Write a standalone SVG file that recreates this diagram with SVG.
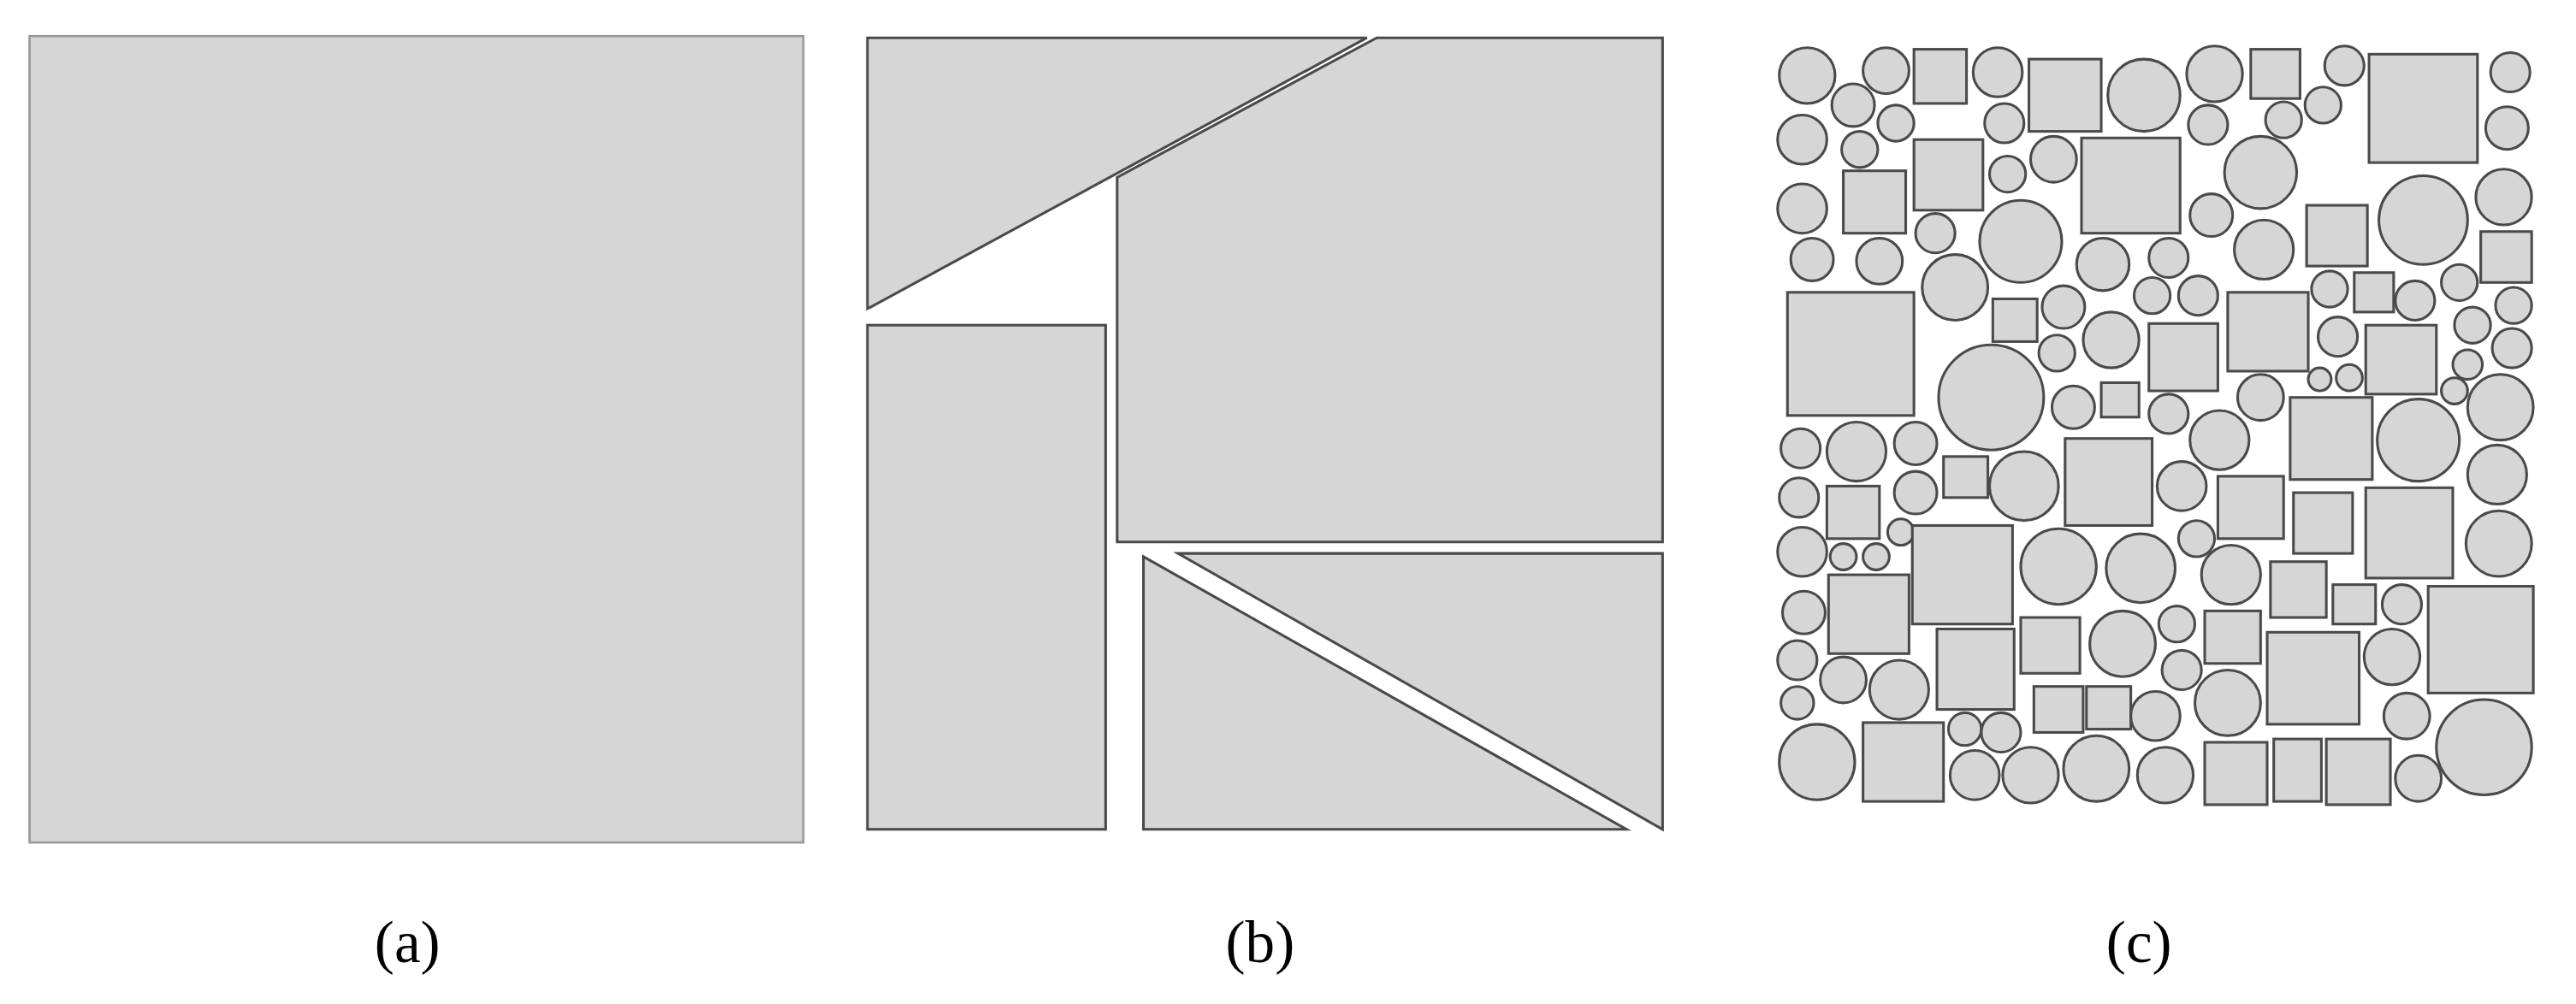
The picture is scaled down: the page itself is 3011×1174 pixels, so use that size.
<svg xmlns="http://www.w3.org/2000/svg" width="3011" height="1174" viewBox="0 0 3011 1174">
<style>
.s{fill:#d6d6d6;stroke:#4a4a4a;stroke-width:1.6}
.a{fill:#d6d6d6;stroke:#9a9a9a;stroke-width:1.4}
.t{font-family:"Liberation Serif",serif;font-size:36px;fill:#000;text-anchor:middle}
</style>
<rect width="3011" height="1174" fill="#fff"/>
<g transform="scale(1.9203)">
<g id="panel-a"><rect class="a" x="18" y="22" width="471" height="491"/></g>
<g id="panel-b">
<polygon class="s" points="528,23 832,23 528,188"/>
<polygon class="s" points="838,23 1012,23 1012,330 680,330 680,108"/>
<rect class="s" x="528" y="198" width="145" height="307"/>
<polygon class="s" points="696,339 696,505 990,505"/>
<polygon class="s" points="717,337 1012,337 1012,505"/>
</g>
<g id="panel-c">
<circle class="s" cx="1100" cy="46" r="17"/><circle class="s" cx="1128" cy="64" r="13"/><circle class="s" cx="1148" cy="43" r="14"/>
<rect class="s" x="1165" y="30" width="32" height="33"/><circle class="s" cx="1216" cy="44" r="15"/><circle class="s" cx="1220" cy="75" r="12"/>
<rect class="s" x="1235" y="36" width="44" height="44"/><circle class="s" cx="1305" cy="58" r="22"/><circle class="s" cx="1348" cy="45" r="17"/>
<rect class="s" x="1370" y="30" width="30" height="30"/><circle class="s" cx="1390" cy="73" r="11"/><circle class="s" cx="1414" cy="64" r="11"/>
<circle class="s" cx="1427" cy="40" r="12"/><rect class="s" x="1442" y="33" width="66" height="66"/><circle class="s" cx="1528" cy="44" r="12"/><circle class="s" cx="1526" cy="78" r="13"/>
<circle class="s" cx="1097" cy="85" r="15"/><circle class="s" cx="1132" cy="91" r="11"/><circle class="s" cx="1154" cy="75" r="11"/>
<rect class="s" x="1122" y="104" width="38" height="38"/><rect class="s" x="1165" y="85" width="42" height="43"/><circle class="s" cx="1222" cy="106" r="11"/>
<circle class="s" cx="1250" cy="97" r="14"/><rect class="s" x="1267" y="84" width="60" height="58"/><circle class="s" cx="1344" cy="76" r="12"/>
<circle class="s" cx="1376" cy="105" r="22"/><circle class="s" cx="1346" cy="131" r="13"/><circle class="s" cx="1097" cy="127" r="15"/>
<circle class="s" cx="1103" cy="158" r="13"/><circle class="s" cx="1144" cy="159" r="14"/><circle class="s" cx="1178" cy="142" r="12"/>
<circle class="s" cx="1230" cy="147" r="25"/><circle class="s" cx="1190" cy="175" r="20"/><rect class="s" x="1404" y="125" width="37" height="37"/>
<circle class="s" cx="1475" cy="134" r="27"/><circle class="s" cx="1524" cy="120" r="17"/><rect class="s" x="1510" y="141" width="31" height="31"/>
<circle class="s" cx="1280" cy="161" r="16"/><circle class="s" cx="1320" cy="157" r="12"/><circle class="s" cx="1378" cy="152" r="18"/>
<rect class="s" x="1088" y="178" width="77" height="75"/><rect class="s" x="1213" y="182" width="27" height="26"/><circle class="s" cx="1256" cy="187" r="13"/>
<circle class="s" cx="1252" cy="215" r="11"/><circle class="s" cx="1285" cy="207" r="17"/><circle class="s" cx="1310" cy="180" r="11"/>
<circle class="s" cx="1338" cy="180" r="12"/><rect class="s" x="1308" y="197" width="42" height="41"/><rect class="s" x="1356" y="178" width="49" height="48"/>
<circle class="s" cx="1418" cy="176" r="11"/><rect class="s" x="1433" y="166" width="24" height="24"/><circle class="s" cx="1470" cy="183" r="12"/>
<circle class="s" cx="1497" cy="172" r="11"/><circle class="s" cx="1530" cy="186" r="11"/><circle class="s" cx="1423" cy="205" r="12"/>
<rect class="s" x="1440" y="198" width="43" height="42"/><circle class="s" cx="1505" cy="198" r="11"/><circle class="s" cx="1529" cy="212" r="12"/>
<circle class="s" cx="1502" cy="222" r="9"/><circle class="s" cx="1212" cy="242" r="32"/><circle class="s" cx="1262" cy="248" r="13"/>
<rect class="s" x="1279" y="233" width="23" height="21"/><circle class="s" cx="1320" cy="252" r="12"/><circle class="s" cx="1376" cy="242" r="14"/>
<circle class="s" cx="1412" cy="231" r="7"/><circle class="s" cx="1430" cy="230" r="8"/><circle class="s" cx="1494" cy="238" r="8"/><circle class="s" cx="1522" cy="248" r="20"/>
<circle class="s" cx="1096" cy="273" r="12"/><circle class="s" cx="1130" cy="275" r="18"/><circle class="s" cx="1166" cy="270" r="13"/>
<circle class="s" cx="1095" cy="303" r="12"/><rect class="s" x="1112" y="296" width="32" height="32"/><circle class="s" cx="1166" cy="300" r="13"/>
<rect class="s" x="1183" y="278" width="27" height="25"/><circle class="s" cx="1232" cy="296" r="21"/><rect class="s" x="1257" y="267" width="53" height="53"/>
<circle class="s" cx="1351" cy="268" r="18"/><rect class="s" x="1394" y="242" width="50" height="50"/><circle class="s" cx="1472" cy="268" r="25"/>
<circle class="s" cx="1520" cy="289" r="18"/><circle class="s" cx="1328" cy="296" r="15"/><rect class="s" x="1350" y="290" width="40" height="38"/>
<rect class="s" x="1396" y="300" width="36" height="37"/><rect class="s" x="1440" y="297" width="53" height="55"/><circle class="s" cx="1521" cy="331" r="20"/>
<circle class="s" cx="1097" cy="336" r="15"/><circle class="s" cx="1122" cy="339" r="8"/><circle class="s" cx="1142" cy="339" r="8"/><circle class="s" cx="1157" cy="324" r="8"/>
<rect class="s" x="1164" y="320" width="61" height="60"/><circle class="s" cx="1253" cy="345" r="23"/><circle class="s" cx="1303" cy="346" r="21"/>
<circle class="s" cx="1337" cy="328" r="11"/><circle class="s" cx="1358" cy="350" r="18"/>
<circle class="s" cx="1098" cy="373" r="13"/><rect class="s" x="1113" y="350" width="49" height="48"/><circle class="s" cx="1094" cy="402" r="12"/>
<circle class="s" cx="1122" cy="414" r="14"/><circle class="s" cx="1156" cy="420" r="18"/><rect class="s" x="1179" y="383" width="47" height="49"/>
<rect class="s" x="1230" y="376" width="36" height="34"/><circle class="s" cx="1292" cy="392" r="20"/><circle class="s" cx="1325" cy="380" r="11"/>
<circle class="s" cx="1328" cy="408" r="12"/><rect class="s" x="1342" y="372" width="34" height="32"/><rect class="s" x="1382" y="342" width="34" height="34"/>
<rect class="s" x="1420" y="356" width="26" height="24"/><circle class="s" cx="1462" cy="368" r="12"/><rect class="s" x="1478" y="357" width="64" height="65"/>
<rect class="s" x="1380" y="385" width="56" height="56"/><circle class="s" cx="1456" cy="400" r="17"/><circle class="s" cx="1094" cy="428" r="10"/>
<rect class="s" x="1238" y="418" width="30" height="28"/><rect class="s" x="1270" y="418" width="27" height="26"/><circle class="s" cx="1312" cy="436" r="15"/>
<circle class="s" cx="1356" cy="428" r="20"/><circle class="s" cx="1465" cy="436" r="14"/><circle class="s" cx="1106" cy="464" r="23"/>
<rect class="s" x="1134" y="440" width="49" height="48"/><circle class="s" cx="1196" cy="444" r="10"/><circle class="s" cx="1218" cy="446" r="12"/>
<circle class="s" cx="1202" cy="472" r="15"/><circle class="s" cx="1236" cy="472" r="17"/><circle class="s" cx="1276" cy="468" r="20"/>
<circle class="s" cx="1318" cy="472" r="17"/><rect class="s" x="1342" y="452" width="38" height="38"/><rect class="s" x="1384" y="450" width="29" height="38"/>
<rect class="s" x="1416" y="450" width="39" height="40"/><circle class="s" cx="1472" cy="474" r="14"/><circle class="s" cx="1512" cy="455" r="29"/>
</g>
<g id="labels">
<text class="t" x="248" y="586">(a)</text>
<text class="t" x="767" y="586">(b)</text>
<text class="t" x="1302" y="586">(c)</text>
</g>
</g>
</svg>
